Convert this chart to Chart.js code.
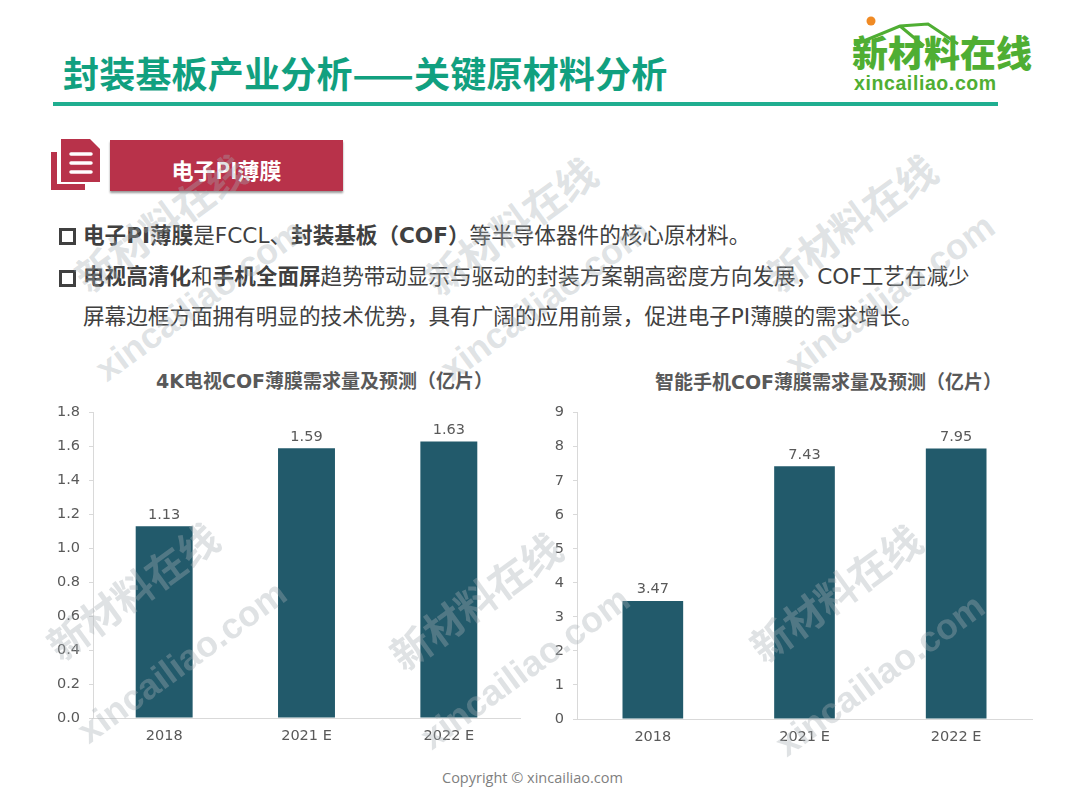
<!DOCTYPE html>
<html>
<head>
<meta charset="utf-8">
<title>封装基板产业分析</title>
<script src="https://cdn.jsdelivr.net/npm/chart.js@4"></script>
<style>
    body { margin: 0; background: #fff; }
    #page { position: relative; width: 1080px; height: 810px; overflow: hidden; font-family: "DejaVu Sans", "Noto Sans CJK SC", sans-serif; }
    #page div, #page svg, #page canvas { position: absolute; }
    .nowrap { white-space: nowrap; }
    #title { left: 63px; top: 46px; font-size: 36px; line-height: 52px; font-weight: 700; color: #11a07f; font-family: "Noto Sans CJK SC", sans-serif; letter-spacing: .2px; }
    #rule { left: 53px; top: 102px; width: 945px; height: 4px; background: #1fae90; }
    #logoCn { left: 852px; top: 25px; font-size: 36px; line-height: 52px; font-weight: 900; color: #4fae33; font-family: "Noto Sans CJK SC", sans-serif; }
    #logoEn { left: 854px; top: 71px; font-size: 19.5px; line-height: 24px; color: #4fae33; font-family: "Liberation Sans", sans-serif; font-weight: 700; letter-spacing: .6px; }
    #tag { left: 110px; top: 140px; width: 233px; height: 51px; background: #b8324a; box-shadow: 0 2px 2px #999; color: #fff; font-size: 22px; line-height: 59px; font-weight: 700; text-align: center; font-family: "Noto Sans CJK SC", sans-serif; }
    .line { left: 83px; font-size: 21.6px; line-height: 30px; color: #404040; }
    .line b { font-weight: 700; }
    .box { left: 59px; width: 11px; height: 11px; border: 3px solid #404040; }
    .chartTitle { font-size: 19px; line-height: 26px; font-weight: 700; color: #595959; }
    .mark { color: rgba(165,175,180,.36); font-weight: 700; transform: translate(-50%, -50%) rotate(-36deg); z-index: 5; pointer-events: none; }
    .markCn { font-size: 40px; font-family: "Noto Sans CJK SC", sans-serif; }
    .markEn { font-size: 36px; font-family: "Liberation Sans", sans-serif; }
    #copy { left: 442px; top: 768px; font-size: 14.5px; line-height: 20px; color: #7f7f7f; font-family: "Open Sans", sans-serif; }
</style>
</head>
<body>
<div id="page">
    <div id="title" class="nowrap">封装基板产业分析——关键原材料分析</div>
    <div id="rule"></div>
    <svg style="left:840px;top:10px" width="210" height="50">
        <circle cx="31" cy="11" r="4.5" fill="#f08a24"/>
        <path d="M14 35 L60 16 L88 14 L118 34 M60 16 L84 36" fill="none" stroke="#4fae33" stroke-width="3"/>
    </svg>
    <div id="logoCn" class="nowrap">新材料在线</div>
    <div id="logoEn" class="nowrap">xincailiao.com</div>

    <svg style="left:50px;top:138px" width="52" height="54">
        <path d="M1 14 H7 V46 H35 V52 H1 Z" fill="#b8324a"/>
        <path d="M11 1 H40 L50 11 V44 H11 Z" fill="#b8324a"/>
        <path d="M21 14 H41 M21 23 H41 M21 32 H41" stroke="#fff" stroke-width="3.5" stroke-linecap="round" transform="translate(0,2) scale(1,1)"/>
    </svg>
    <div id="tag">电子PI薄膜</div>

    <div class="box" style="top:228px"></div>
    <div class="line nowrap" style="top:221px"><b>电子PI薄膜</b>是FCCL、<b>封装基板（COF）</b>等半导体器件的核心原材料。</div>
    <div class="box" style="top:270px"></div>
    <div class="line nowrap" style="top:262px"><b>电视高清化</b>和<b>手机全面屏</b>趋势带动显示与驱动的封装方案朝高密度方向发展，COF工艺在减少</div>
    <div class="line nowrap" style="top:302px">屏幕边框方面拥有明显的技术优势，具有广阔的应用前景，促进电子PI薄膜的需求增长。</div>

    <div class="chartTitle nowrap" style="left:156px;top:368px">4K电视COF薄膜需求量及预测（亿片）</div>
    <div class="chartTitle nowrap" style="left:655px;top:369px">智能手机COF薄膜需求量及预测（亿片）</div>
    <canvas id="tvChart" style="left:30px;top:395px"></canvas>
    <canvas id="phoneChart" style="left:530px;top:395px"></canvas>

    <div id="marks"></div>
    <div id="copy" class="nowrap">Copyright © xincailiao.com</div>
</div>

<script>
const categories = ['2018', '2021 E', '2022 E'];
const tvValues = [1.13, 1.59, 1.63];
const phoneValues = [3.47, 7.43, 7.95];
const tvTicks = ['0.0', '0.2', '0.4', '0.6', '0.8', '1.0', '1.2', '1.4', '1.6', '1.8'];
const phoneTicks = ['0', '1', '2', '3', '4', '5', '6', '7', '8', '9'];

const barColor = '#225a6b';
const textColor = '#595959';
const axisColor = '#d9d9d9';
const fontFamily = '"DejaVu Sans", sans-serif';

// value labels above the bars
const barLabels = {
    id: 'barLabels',
    afterDatasetsDraw(chart) {
        const ctx = chart.ctx;
        const meta = chart.getDatasetMeta(0);
        ctx.save();
        ctx.fillStyle = textColor;
        ctx.font = '14.5px ' + fontFamily;
        ctx.textAlign = 'center';
        ctx.textBaseline = 'bottom';
        meta.data.forEach(function (bar, i) {
            ctx.fillText(chart.data.datasets[0].data[i].toFixed(2), bar.x, bar.y - 4);
        });
        ctx.restore();
    }
};

function drawChart(id, values, tickLabels, step, max, size, axisWidth, paddingRight, paddingTop, axisHeight) {
    const canvas = document.getElementById(id);
    canvas.style.width = size[0] + 'px';
    canvas.style.height = size[1] + 'px';
    canvas.width = size[0];
    canvas.height = size[1];
    return new Chart(canvas.getContext('2d'), {
        type: 'bar',
        data: {
            labels: categories,
            datasets: [{
                data: values,
                backgroundColor: barColor,
                barPercentage: 0.4,
                categoryPercentage: 1
            }]
        },
        options: {
            responsive: false,
            animation: false,
            layout: { padding: { top: paddingTop, right: paddingRight, left: 0, bottom: 0 } },
            plugins: { legend: { display: false }, title: { display: false }, tooltip: { enabled: false } },
            scales: {
                x: {
                    grid: { drawOnChartArea: false, drawTicks: false, color: axisColor },
                    border: { color: axisColor },
                    ticks: { color: textColor, padding: 10, font: { size: 14.5, family: fontFamily }, maxRotation: 0 },
                    afterFit(scale) { scale.height = axisHeight; }
                },
                y: {
                    min: 0,
                    max: max,
                    grid: { drawOnChartArea: false, tickLength: 4, color: axisColor },
                    border: { color: axisColor },
                    ticks: {
                        stepSize: step,
                        color: textColor,
                        padding: 9,
                        font: { size: 14.5, family: fontFamily },
                        callback: function (v, i) { return tickLabels[i]; }
                    },
                    afterFit(scale) { scale.width = axisWidth; }
                }
            }
        },
        plugins: [barLabels]
    });
}

drawChart('tvChart', tvValues, tvTicks, 0.2, 1.8, [500, 365], 63, 10, 9, 42);
drawChart('phoneChart', phoneValues, phoneTicks, 1, 9, [510, 365], 47, 8, 11, 41);

// watermark, [text, x, y]
const watermarks = [
    ['新材料在线', 160, 222], ['新材料在线', 510, 225], ['新材料在线', 850, 222],
    ['xincailiao.com', 200, 300], ['xincailiao.com', 545, 300], ['xincailiao.com', 890, 295],
    ['新材料在线', 132, 590], ['新材料在线', 475, 600], ['新材料在线', 835, 592],
    ['xincailiao.com', 182, 662], ['xincailiao.com', 525, 668], ['xincailiao.com', 880, 675]
];
watermarks.forEach(function (w) {
    const el = document.createElement('div');
    el.className = 'mark nowrap ' + (w[0].charCodeAt(0) > 255 ? 'markCn' : 'markEn');
    el.textContent = w[0];
    el.style.left = w[1] + 'px';
    el.style.top = w[2] + 'px';
    document.getElementById('page').appendChild(el);
});
</script>
</body>
</html>
